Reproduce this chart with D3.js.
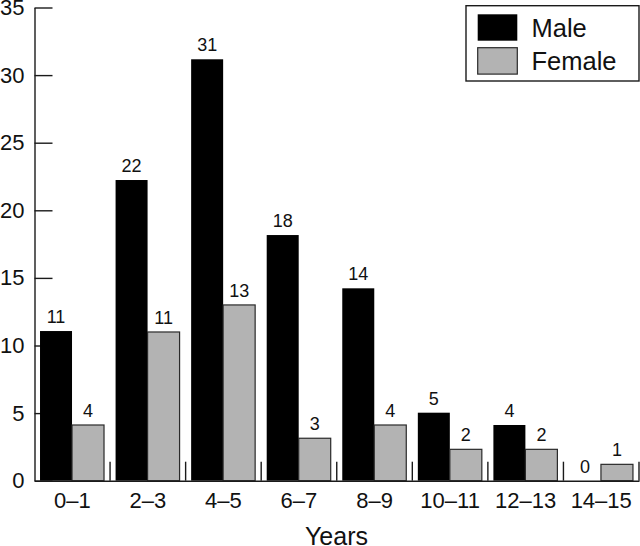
<!DOCTYPE html>
<html>
<head>
<meta charset="utf-8">
<script src="https://cdn.jsdelivr.net/npm/d3@7/dist/d3.min.js"></script>
<style>
  html, body { margin: 0; padding: 0; background: #fff; }
  svg { display: block; font-family: "Liberation Sans", Arial, Helvetica, sans-serif; }
</style>
</head>
<body>
<svg id="chart" width="640" height="546"></svg>
<script>
// ---- data ----
const categories = ["0–1", "2–3", "4–5", "6–7", "8–9", "10–11", "12–13", "14–15"];
const series = ["Male", "Female"];
// counts printed above the bars
const maleCounts   = [11, 22, 31, 18, 14, 5, 4, 0];
const femaleCounts = [4, 11, 13, 3, 4, 2, 2, 1];
// bar heights as drawn in the picture
const maleHeights   = [11.07, 22.24, 31.17, 18.17, 14.23, 5.03, 4.12, 0];
const femaleHeights = [4.12, 11.0, 13.0, 3.14, 4.12, 2.32, 2.32, 1.21];
const yTicks = [0, 5, 10, 15, 20, 25, 30, 35];
const xTitle = "Years";

// ---- layout ----
const svg = d3.select("#chart");
const plotLeft = 34.5, plotRight = 639, plotTop = 7.5, plotBottom = 480.7;
const axisColor = "#1a1a1a";
const grey = "#b3b3b3";

const y = d3.scaleLinear().domain([0, 35]).range([plotBottom, plotTop]);
const x0 = d3.scaleBand().domain(categories).range([plotLeft, plotRight]).padding(0);
const gw = x0.bandwidth();
const x1 = d3.scaleBand().domain(series).range([gw * 0.073, gw * 0.92]).padding(0);

// y axis (inward ticks)
const yAxis = d3.axisLeft(y).tickValues(yTicks).tickSizeInner(-18).tickSizeOuter(0).tickPadding(10);
const gy = svg.append("g").attr("transform", `translate(${plotLeft},0)`).call(yAxis);
gy.attr("font-family", null).attr("font-size", null);
gy.select(".domain").attr("stroke", axisColor).attr("stroke-width", 1.4);
gy.selectAll(".tick line").attr("stroke", axisColor).attr("stroke-width", 1.4);
gy.selectAll(".tick text").attr("font-size", 22).attr("fill", "#111");

// bars
const rows = categories.map((c, i) => ({
  cat: c,
  vals: [
    { s: "Male", h: maleHeights[i], n: maleCounts[i] },
    { s: "Female", h: femaleHeights[i], n: femaleCounts[i] }
  ]
}));

const groups = svg.append("g").selectAll("g").data(rows).join("g")
  .attr("transform", d => `translate(${x0(d.cat)},0)`);

groups.selectAll("rect").data(d => d.vals).join("rect")
  .attr("x", d => x1(d.s))
  .attr("width", x1.bandwidth())
  .attr("y", d => y(d.h))
  .attr("height", d => y(0) - y(d.h))
  .attr("fill", d => d.s === "Male" ? "#000" : grey)
  .attr("stroke", d => d.s === "Male" ? "none" : "#2a2a2a")
  .attr("stroke-width", 1.2);

groups.selectAll("text").data(d => d.vals).join("text")
  .attr("x", d => x1(d.s) + x1.bandwidth() / 2)
  .attr("y", d => y(d.h) - 8)
  .attr("text-anchor", "middle")
  .attr("font-size", 18)
  .attr("fill", "#111")
  .text(d => d.n);

// x axis baseline and labels
const xAxis = d3.axisBottom(x0).tickSize(0).tickPadding(12);
const gx = svg.append("g").attr("transform", `translate(0,${plotBottom})`).call(xAxis);
gx.attr("font-family", null).attr("font-size", null);
gx.select(".domain").attr("stroke", axisColor).attr("stroke-width", 1.4);
gx.selectAll(".tick text").attr("font-size", 22).attr("fill", "#111");

// group separator ticks (upward)
svg.append("g").selectAll("line").data(categories).join("line")
  .attr("x1", d => x0(d) + gw).attr("x2", d => x0(d) + gw)
  .attr("y1", plotBottom).attr("y2", plotBottom - 19)
  .attr("stroke", axisColor).attr("stroke-width", 1.4);

// x title
svg.append("text")
  .attr("x", 336.5)
  .attr("y", 545)
  .attr("text-anchor", "middle")
  .attr("font-size", 25)
  .attr("fill", "#111")
  .text(xTitle);

// legend
const lg = svg.append("g");
lg.append("rect").attr("x", 466).attr("y", 5.7).attr("width", 173).attr("height", 75.3)
  .attr("fill", "#fff").attr("stroke", axisColor).attr("stroke-width", 1.4);
const legendItems = series.map((s, i) => ({ s, i }));
lg.selectAll(".sw").data(legendItems).join("rect")
  .attr("class", "sw")
  .attr("x", 477.7).attr("y", d => 14.3 + d.i * 33.4)
  .attr("width", 39.6).attr("height", 26.4)
  .attr("fill", d => d.s === "Male" ? "#000" : grey)
  .attr("stroke", d => d.s === "Male" ? "none" : "#2a2a2a")
  .attr("stroke-width", 1.2);
lg.selectAll(".lt").data(legendItems).join("text")
  .attr("class", "lt")
  .attr("x", 531.5).attr("y", d => 36.7 + d.i * 33.4)
  .attr("font-size", 25.5)
  .attr("fill", "#111")
  .text(d => d.s);
</script>
</body>
</html>
